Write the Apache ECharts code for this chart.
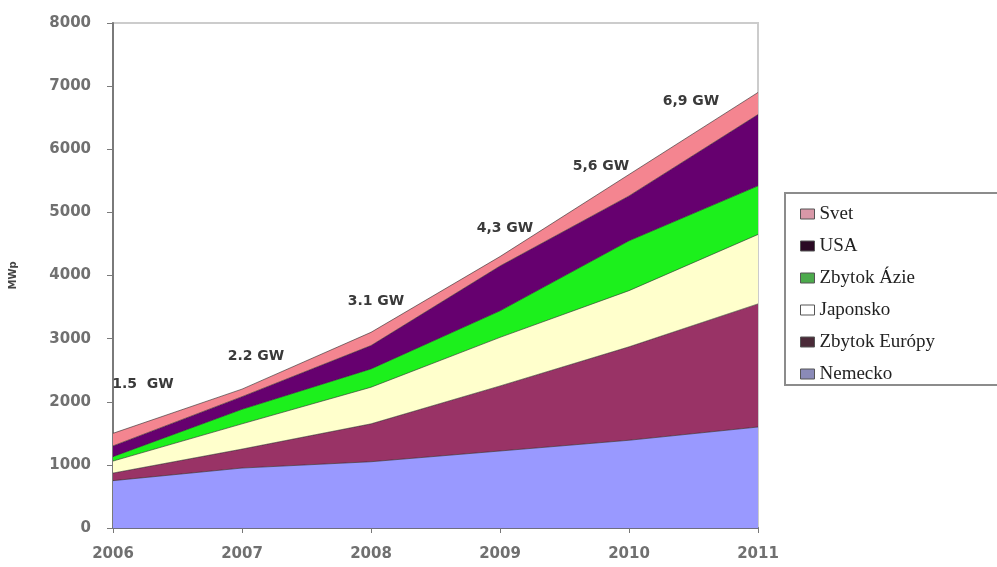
<!DOCTYPE html>
<html>
<head>
<meta charset="utf-8">
<script src="https://cdn.jsdelivr.net/npm/echarts@6/dist/echarts.min.js"></script>
<style>
  html, body { margin: 0; padding: 0; background: #fff; }
  #chart { width: 997px; height: 567px; }
</style>
</head>
<body>
<div id="chart"></div>
<script>
// Installed photovoltaic capacity by region, stacked (MWp)
const years = ['2006', '2007', '2008', '2009', '2010', '2011'];
const yTicks = [0, 1000, 2000, 3000, 4000, 5000, 6000, 7000, 8000];

const nemecko      = [750, 950, 1050, 1220, 1390, 1600];
const zbytokEuropy = [120, 300, 600, 1030, 1480, 1950];
const japonsko     = [190, 400, 580, 770, 890, 1100];
const zbytokAzie   = [70, 230, 290, 420, 790, 770];
const usa          = [170, 200, 370, 710, 710, 1130];
const svet         = [200, 120, 210, 150, 340, 350];

// Total labels written above the top edge
const totalLabels = ['1.5  GW', '2.2 GW', '3.1 GW', '4,3 GW', '5,6 GW', '6,9 GW'];
const totalLabelOffsets = [[30, -36], [14, -20], [5, -18], [5, -16], [-28, 4], [-67, 21]];

const seriesDefs = [
  { name: 'Nemecko',       data: nemecko,      fill: '#9999ff', legend: '#8a8ab8' },
  { name: 'Zbytok Európy', data: zbytokEuropy, fill: '#993366', legend: '#4a2a38' },
  { name: 'Japonsko',      data: japonsko,     fill: '#ffffcc', legend: '#ffffff' },
  { name: 'Zbytok Ázie',   data: zbytokAzie,   fill: '#1cf01c', legend: '#4caa4c' },
  { name: 'USA',           data: usa,          fill: '#66006f', legend: '#2a0a24' },
  { name: 'Svet',          data: svet,         fill: '#f48590', legend: '#d898a8' }
];

const series = seriesDefs.map((d, si) => {
  const isTop = si === seriesDefs.length - 1;
  return {
    name: d.name,
    type: 'line',
    stack: 'total',
    symbol: 'circle',
    symbolSize: 1,
    showSymbol: isTop,
    itemStyle: { color: 'rgba(0,0,0,0)' },
    smooth: false,
    color: d.fill,
    lineStyle: { color: '#2a2a2a', width: 1, opacity: 0.6 },
    areaStyle: { color: d.fill, opacity: 1 },
    emphasis: { disabled: true },
    label: { show: false },
    data: d.data.map((v, i) => isTop ? {
      value: v,
      label: {
        show: true,
        position: 'top',
        offset: totalLabelOffsets[i],
        formatter: totalLabels[i],
        fontFamily: 'DejaVu Sans',
        fontWeight: 'bold',
        fontSize: 14,
        color: '#3a3a3a'
      }
    } : v)
  };
});

const chart = echarts.init(document.getElementById('chart'), null, { renderer: 'canvas' });
chart.setOption({
  animation: false,
  backgroundColor: '#ffffff',
  grid: {
    left: 110, top: 23, width: 648, height: 505,
    show: true, borderColor: '#cccccc', borderWidth: 2, backgroundColor: 'transparent'
  },
  legend: {
    orient: 'vertical',
    left: 795,
    top: 199,
    itemWidth: 14,
    itemHeight: 10,
    itemGap: 12,
    icon: 'rect',
    selectedMode: false,
    textStyle: {
      fontFamily: 'Liberation Serif',
      fontSize: 19,
      lineHeight: 20,
      color: '#222222'
    },
    data: seriesDefs.slice().reverse().map(d => ({
      name: d.name,
      itemStyle: { color: d.legend, borderColor: '#555', borderWidth: 1 }
    }))
  },
  graphic: [{
    type: 'rect',
    shape: { x: 785, y: 193, width: 230, height: 192 },
    style: { fill: 'none', stroke: '#8c8c8c', lineWidth: 2 },
    z: 10
  }],
  xAxis: {
    type: 'category',
    data: years,
    boundaryGap: false,
    axisLine: { lineStyle: { color: '#6e6e80', width: 2 } },
    axisTick: { show: true, length: 5, alignWithLabel: true, lineStyle: { color: '#777' } },
    axisLabel: {
      margin: 19,
      fontFamily: 'DejaVu Sans',
      fontWeight: 'bold',
      fontSize: 15,
      color: '#707070'
    },
    splitLine: { show: false }
  },
  yAxis: {
    type: 'value',
    min: yTicks[0],
    max: yTicks[yTicks.length - 1],
    interval: 1000,
    name: 'MWp',
    nameLocation: 'middle',
    nameRotate: 90,
    nameGap: 95,
    nameTextStyle: { fontFamily: 'DejaVu Sans', fontWeight: 'bold', fontSize: 10, color: '#444' },
    axisLine: { show: true, lineStyle: { color: '#7a7a7a', width: 2 } },
    axisTick: { show: true, length: 6, lineStyle: { color: '#7a7a7a' } },
    axisLabel: {
      margin: 22,
      fontFamily: 'DejaVu Sans',
      fontWeight: 'bold',
      fontSize: 15,
      color: '#707070',
      formatter: v => String(v)
    },
    splitLine: { show: false }
  },
  series: series
});
</script>
</body>
</html>
